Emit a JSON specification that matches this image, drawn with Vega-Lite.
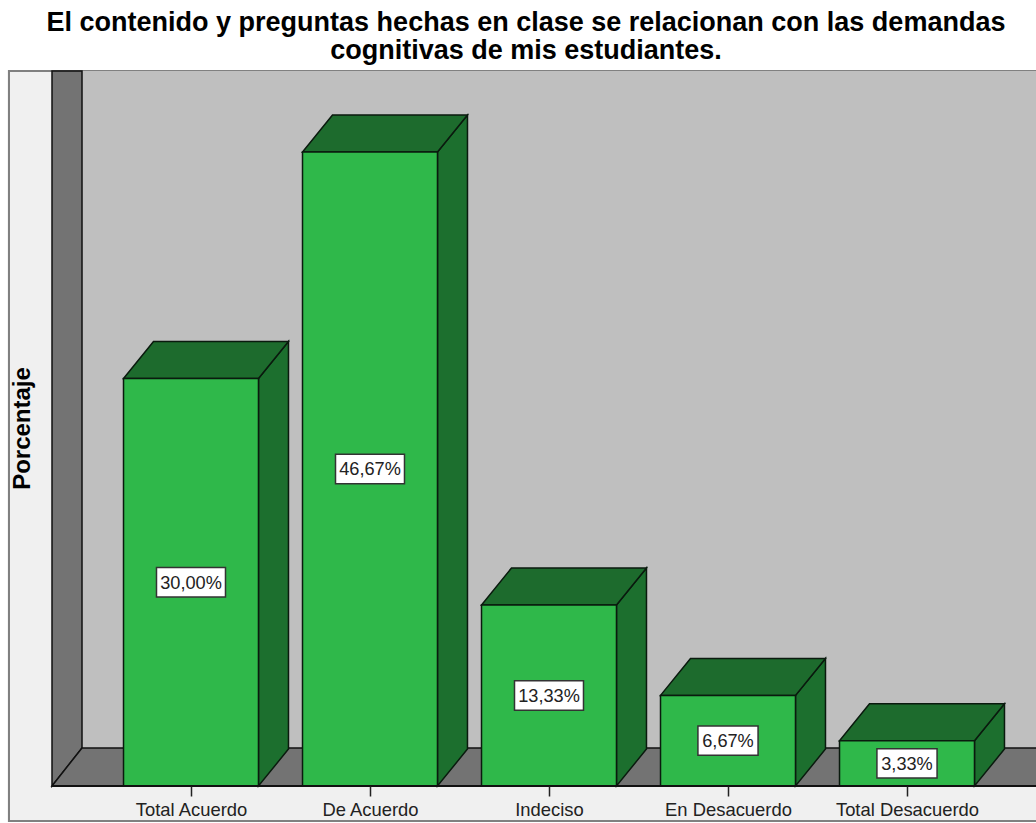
{"$schema":"https://vega.github.io/schema/vega-lite/v6.json","width":1036,"height":715,"autosize":{"type":"none"},"padding":{"left":0,"right":0,"top":71,"bottom":37},"background":"#ffffff","title":{"text":["El contenido y preguntas hechas en clase se relacionan con las demandas","cognitivas de mis estudiantes."],"font":"Liberation Sans","fontSize":27,"fontWeight":"bold","color":"#000000","anchor":"middle","dx":8,"offset":3,"lineHeight":28},"datasets":{"bars":[{"category":"Total Acuerdo","order":0,"value":30,"label":"30,00%"},{"category":"De Acuerdo","order":1,"value":46.67,"label":"46,67%"},{"category":"Indeciso","order":2,"value":13.33,"label":"13,33%"},{"category":"En Desacuerdo","order":3,"value":6.67,"label":"6,67%"},{"category":"Total Desacuerdo","order":4,"value":3.33,"label":"3,33%"}],"depth":[{"t":0},{"t":1}]},"config":{"view":{"stroke":null},"axis":{"grid":false}},"layer":[{"data":{"name":"bars"},"mark":{"type":"rect","fill":"#f0f0f0","stroke":"#808080","strokeWidth":2,"clip":false},"encoding":{"x":{"datum":-1.0168,"type":"quantitative","scale":{"domain":[-1.067,4.7207],"nice":false,"zero":false},"axis":{"title":null,"values":[0,1,2,3,4],"labelExpr":"['Total Acuerdo','De Acuerdo','Indeciso','En Desacuerdo','Total Desacuerdo'][datum.value]","labelFont":"Liberation Sans","labelFontSize":18.4,"labelColor":"#222222","labelPadding":4,"labelOverlap":false,"labelFlush":false,"tickColor":"#222222","tickSize":10,"tickWidth":1.5,"domain":false,"zindex":1}},"x2":{"datum":4.76},"y":{"datum":52.63,"type":"quantitative","scale":{"domain":[0,52.63],"nice":false,"zero":false},"axis":{"title":"Porcentaje","titleFont":"Liberation Sans","titleFontSize":24,"titleFontWeight":"bold","titleColor":"#000000","titleX":34,"titleY":357,"labels":false,"ticks":false,"domain":false,"tickCount":2,"zindex":1}},"y2":{"datum":-2.58}}},{"data":{"name":"bars"},"mark":{"type":"rect","fill":"#bfbfbf"},"encoding":{"x":{"datum":-0.6089,"type":"quantitative"},"x2":{"datum":4.7207},"y":{"datum":52.63,"type":"quantitative"},"y2":{"datum":2.8}}},{"data":{"name":"depth"},"transform":[{"calculate":"-0.7765+datum.t*0.1676","as":"xa"},{"calculate":"datum.t*2.8","as":"yb"},{"calculate":"52.63","as":"yt"}],"mark":{"type":"area","fill":"#737373","stroke":"#111111","strokeWidth":1.5,"orient":"vertical"},"encoding":{"x":{"field":"xa","type":"quantitative"},"y":{"field":"yt","type":"quantitative"},"y2":{"field":"yb"}}},{"data":{"name":"depth"},"transform":[{"calculate":"-0.7765+datum.t*0.1676","as":"xa"},{"calculate":"4.9","as":"xb"},{"calculate":"datum.t*2.8","as":"yb"}],"mark":{"type":"area","fill":"#737373","stroke":"#111111","strokeWidth":1.5,"orient":"horizontal"},"encoding":{"y":{"field":"yb","type":"quantitative"},"x":{"field":"xa","type":"quantitative"},"x2":{"field":"xb"}}},{"data":{"name":"bars"},"transform":[{"calculate":"[0,1]","as":"ts"},{"flatten":["ts"],"as":["t"]},{"calculate":"datum.order+0.377+datum.t*0.1676","as":"xs"},{"calculate":"datum.t*2.72","as":"ys0"},{"calculate":"datum.value+datum.t*2.72","as":"ys1"}],"mark":{"type":"area","fill":"#1c6f2e","stroke":"#0a1a0e","strokeWidth":1.5,"orient":"vertical"},"encoding":{"detail":{"field":"category"},"x":{"field":"xs","type":"quantitative"},"y":{"field":"ys1","type":"quantitative"},"y2":{"field":"ys0"}}},{"data":{"name":"bars"},"transform":[{"calculate":"[0,1]","as":"ts"},{"flatten":["ts"],"as":["t"]},{"calculate":"datum.order-0.377+datum.t*0.1676","as":"xa"},{"calculate":"datum.order+0.377+datum.t*0.1676","as":"xb"},{"calculate":"datum.value+datum.t*2.72","as":"ya"}],"mark":{"type":"area","fill":"#1d6b2d","stroke":"#0a1a0e","strokeWidth":1.5,"orient":"horizontal"},"encoding":{"detail":{"field":"category"},"y":{"field":"ya","type":"quantitative"},"x":{"field":"xa","type":"quantitative"},"x2":{"field":"xb"}}},{"data":{"name":"bars"},"transform":[{"calculate":"datum.order-0.377","as":"xa"},{"calculate":"datum.order+0.377","as":"xb"}],"mark":{"type":"rect","fill":"#2fb84a","stroke":"#0a1a0e","strokeWidth":1.5},"encoding":{"x":{"field":"xa","type":"quantitative"},"x2":{"field":"xb"},"y":{"field":"value","type":"quantitative"},"y2":{"datum":0}}},{"data":{"name":"bars"},"mark":{"type":"rule","color":"#111111","strokeWidth":2},"encoding":{"x":{"datum":-0.7765,"type":"quantitative"},"x2":{"datum":4.7207},"y":{"datum":0,"type":"quantitative"}}},{"data":{"name":"bars"},"transform":[{"calculate":"datum.value>=10?0.1927:0.168","as":"hw"},{"calculate":"datum.order-datum.hw","as":"xa"},{"calculate":"datum.order+datum.hw","as":"xb"},{"calculate":"datum.value/2-1.08","as":"ya"},{"calculate":"datum.value/2+1.08","as":"yb"}],"mark":{"type":"rect","fill":"#ffffff","stroke":"#333333","strokeWidth":1.5},"encoding":{"x":{"field":"xa","type":"quantitative"},"x2":{"field":"xb"},"y":{"field":"ya","type":"quantitative"},"y2":{"field":"yb"}}},{"data":{"name":"bars"},"transform":[{"calculate":"datum.value/2","as":"ym"}],"mark":{"type":"text","font":"Liberation Sans","fontSize":18.2,"color":"#222222","align":"center","baseline":"middle","dy":1.5},"encoding":{"x":{"field":"order","type":"quantitative"},"y":{"field":"ym","type":"quantitative"},"text":{"field":"label"}}}]}
